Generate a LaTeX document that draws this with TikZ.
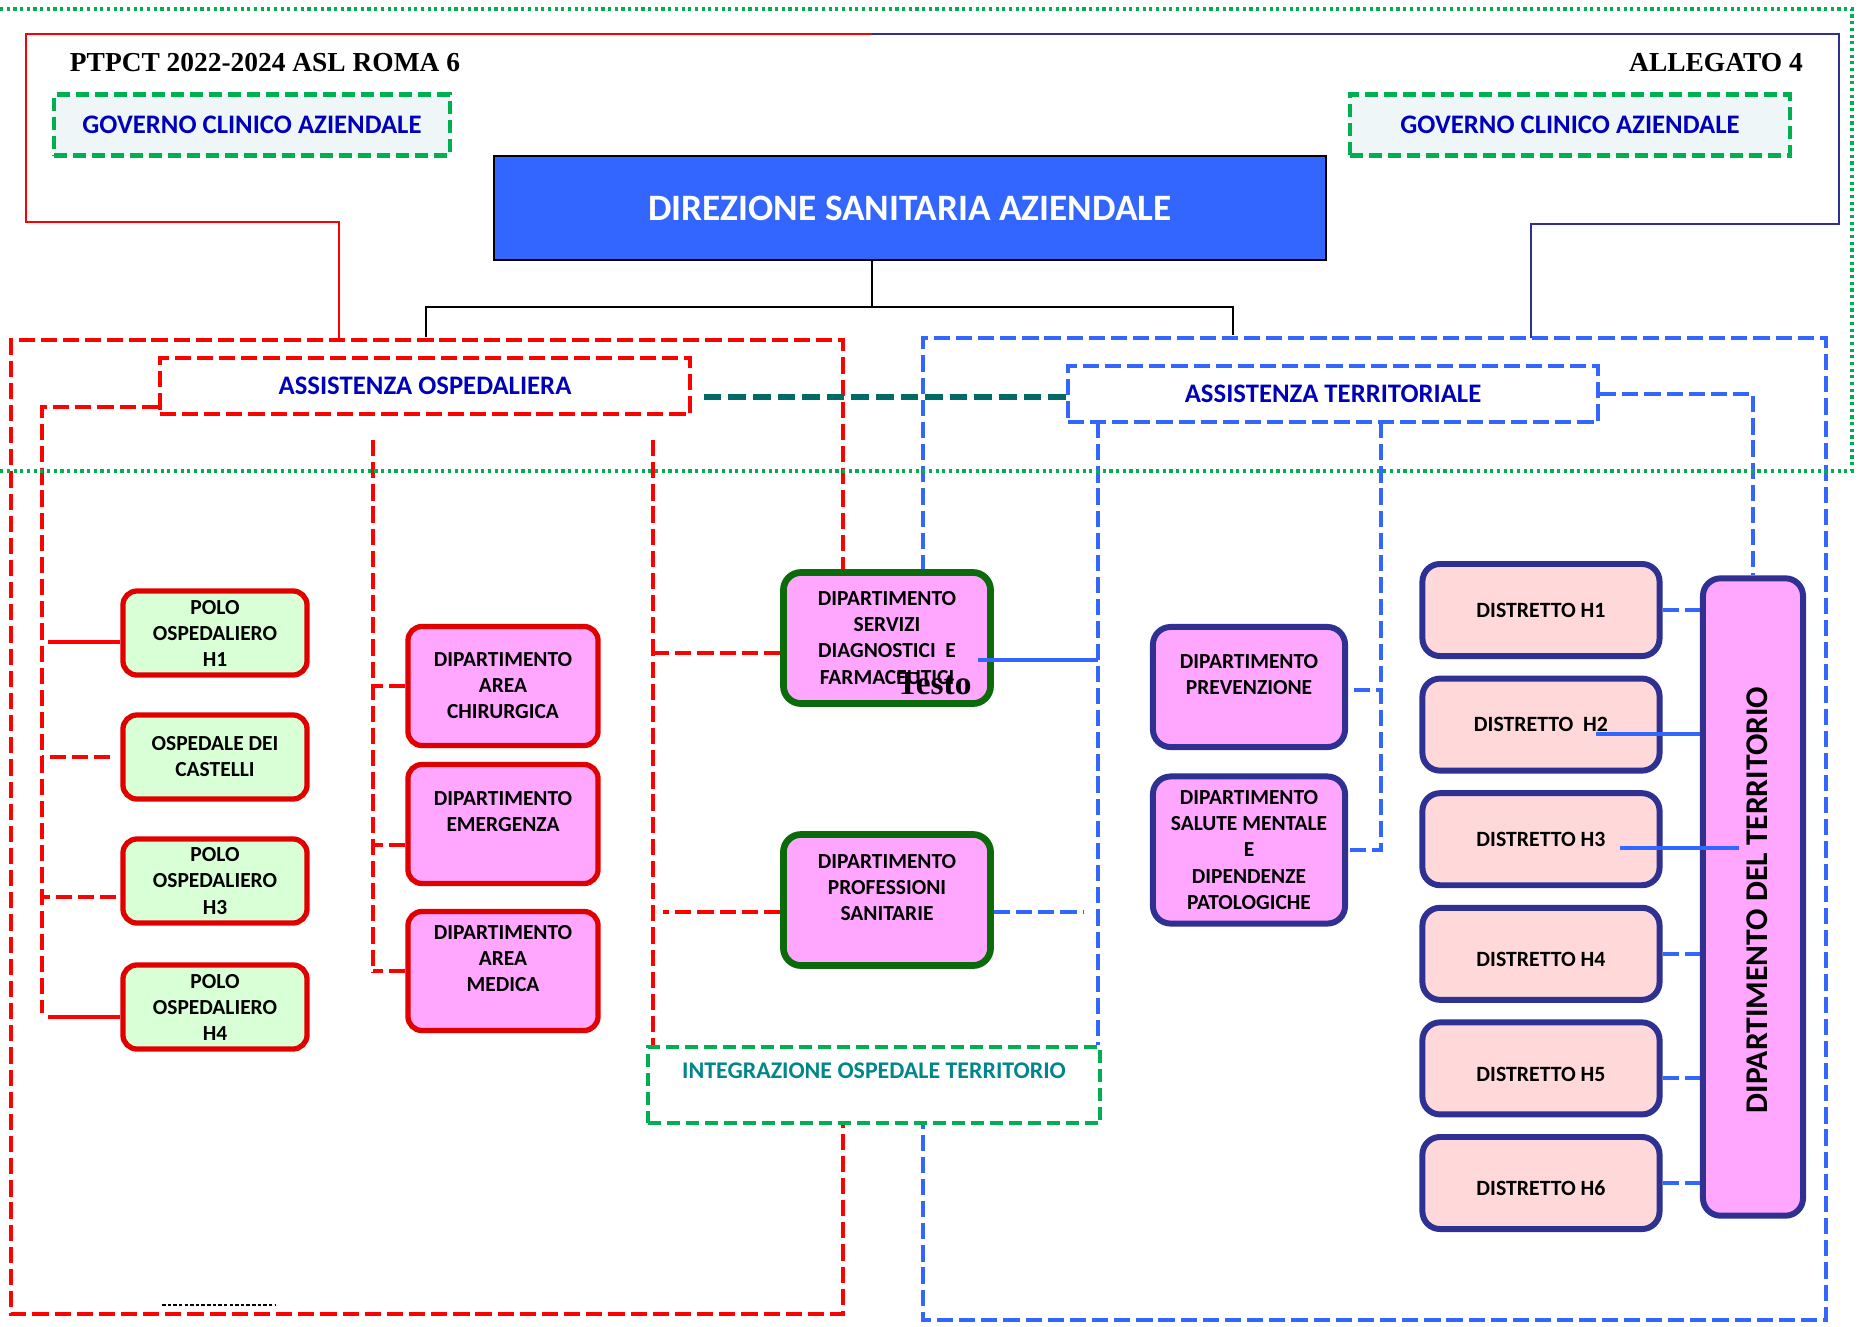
\documentclass[tikz,border=0pt]{standalone}
\usepackage{fontspec}
\setmainfont{Carlito}
\newfontfamily\tnr{Liberation Serif}
\usepackage{xcolor}
\usepackage{tikz}

\definecolor{rosa}{HTML}{FFA6FF}
\definecolor{verdino}{HTML}{D9FFD6}
\definecolor{pesca}{HTML}{FFD9D9}
\definecolor{blu}{HTML}{3366FF}
\definecolor{bltxt}{HTML}{0000BB}
\definecolor{navy}{HTML}{2E3092}
\definecolor{verde}{HTML}{00B050}
\definecolor{ciano}{HTML}{EEF6F8}
\definecolor{tealln}{HTML}{006B66}
\definecolor{tealtxt}{HTML}{00868B}
\definecolor{verdescuro}{HTML}{0B6B0B}
\definecolor{rossob}{HTML}{E00000}

\begin{document}
\begin{tikzpicture}[x=0.01cm, y=-0.01cm,
    rdash/.style={draw=red, line width=1.1pt, dash pattern=on 4.6pt off 1.7pt},
    bdash/.style={draw=blu, line width=1.1pt, dash pattern=on 4.6pt off 1.7pt},
    gdash/.style={draw=verde, line width=1.2pt, dash pattern=on 3.7pt off 1.7pt},
    gdot/.style={draw=verde, line width=1.1pt, dash pattern=on 0.9pt off 1pt},
    tdash/.style={draw=tealln, line width=1.7pt, dash pattern=on 5pt off 2pt},
    rsolid/.style={draw=red, line width=1.1pt},
    bsolid/.style={draw=blu, line width=0.9pt},
    txt/.style={font=\bfseries\fontsize{6.1}{7.4}\selectfont, align=center, inner sep=0pt},
    hbox/.style={txt, rounded corners=4pt, draw=rossob, line width=1.5pt, fill=verdino,
        minimum width=1.84cm, minimum height=0.84cm},
    dbox/.style={txt, rounded corners=4pt, draw=rossob, line width=1.5pt, fill=rosa,
        minimum width=1.9cm, minimum height=1.19cm},
    sbox/.style={txt, rounded corners=5pt, draw=verdescuro, line width=1.9pt, fill=rosa,
        minimum width=2.07cm, minimum height=1.31cm},
    nbox/.style={txt, rounded corners=5pt, draw=navy, line width=1.7pt, fill=rosa,
        minimum width=1.92cm, minimum height=1.2cm},
    distr/.style={txt, font=\bfseries\fontsize{6.2}{7.4}\selectfont, rounded corners=5pt,
        draw=navy, line width=1.7pt, fill=pesca, minimum width=2.37cm, minimum height=0.92cm},
    gov/.style={gdash, fill=ciano, text=bltxt, font=\bfseries\fontsize{7.6}{8.5}\selectfont,
        minimum height=0.61cm},
    assist/.style={fill=white, text=bltxt, font=\bfseries\fontsize{7.6}{8.5}\selectfont,
        minimum width=5.3cm, minimum height=0.56cm}
  ]
    \useasboundingbox (0,0) rectangle (1865,1326);

    % frames
    \draw[red, line width=0.8pt] (339,340) -- (339,222) -- (26,222) -- (26,34) -- (872,34);
    \draw[navy, line width=0.8pt] (872,34) -- (1839,34) -- (1839,224) -- (1531,224) -- (1531,338);
    \draw[rdash] (843,573) -- (843,340) -- (11,340) -- (11,1314) -- (843,1314) -- (843,1123);
    \draw[bdash] (923,571) -- (923,338) -- (1826,338) -- (1826,1320) -- (923,1320) -- (923,1123);
    \draw[black, line width=0.4pt, dash pattern=on 1pt off 0.6pt] (162,1305) -- (276,1305);

    % header
    \node[font=\tnr\bfseries\fontsize{7.8}{9}\selectfont] (ptpct) at (265,62) {PTPCT 2022-2024 ASL ROMA 6};
    \node[font=\tnr\bfseries\fontsize{7.8}{9}\selectfont] (alleg) at (1716,63) {ALLEGATO 4};

    % governo clinico
    \node[gov, minimum width=3.95cm] (govL) at (252,125) {GOVERNO CLINICO AZIENDALE};
    \node[gov, minimum width=4.39cm] (govR) at (1570,125) {GOVERNO CLINICO AZIENDALE};

    % direzione
    \node[draw=black, line width=0.6pt, fill=blu, text=white,
        font=\bfseries\fontsize{10.6}{12}\selectfont,
        minimum width=8.31cm, minimum height=1.04cm] (dir) at (910,208) {DIREZIONE SANITARIA AZIENDALE};

    % assistenza
    \node[assist, rdash] (aosp) at (425,386) {ASSISTENZA OSPEDALIERA};
    \node[assist, bdash] (ater) at (1333,394) {ASSISTENZA TERRITORIALE};

    % poli ospedalieri
    \node[hbox] (h1) at (215,633) {POLO\\OSPEDALIERO\\H1};
    \node[hbox] (cast) at (215,757) {OSPEDALE DEI\\CASTELLI};
    \node[hbox] (h3) at (215,881) {POLO\\OSPEDALIERO\\H3};
    \node[hbox] (h4) at (215,1007) {POLO\\OSPEDALIERO\\H4};

    % dipartimenti ospedalieri
    \node[dbox] (chir) at (503,686) {DIPARTIMENTO\\AREA\\CHIRURGICA};
    \node[dbox] (emer) at (503,824) {DIPARTIMENTO\\EMERGENZA\\~};
    \node[dbox] (med) at (503,971) {DIPARTIMENTO\\AREA\\MEDICA\\~};

    % dipartimenti trasversali
    \node[sbox] (serv) at (887,638) {DIPARTIMENTO\\SERVIZI\\DIAGNOSTICI\ \ E\\FARMACEUTICI};
    \node[sbox] (prof) at (887,900) {DIPARTIMENTO\\PROFESSIONI\\SANITARIE\\~};
    \node[font=\tnr\bfseries\fontsize{9.5}{10}\selectfont, inner sep=0pt] (testo) at (934,684) {Testo};

    \node[gdash, fill=white, text=tealtxt, font=\bfseries\fontsize{6.8}{8.2}\selectfont, align=center,
        minimum width=4.52cm, minimum height=0.76cm] (integ) at (874,1085) {INTEGRAZIONE OSPEDALE TERRITORIO\\~};

    % dipartimenti territoriali
    \node[nbox] (prev) at (1249,687) {DIPARTIMENTO\\PREVENZIONE\\~};
    \node[nbox, minimum height=1.47cm] (salm) at (1249,850) {DIPARTIMENTO\\SALUTE MENTALE\\E\\DIPENDENZE\\PATOLOGICHE};

    % distretti
    \foreach \i/\t in {1/{DISTRETTO H1}, 2/{DISTRETTO\ \ H2}, 3/{DISTRETTO H3},
                       4/{~\\DISTRETTO H4}, 5/{~\\DISTRETTO H5}, 6/{~\\DISTRETTO H6}}
        \node[distr] (d\i) at (1541,{610+114.6*(\i-1)}) {\t};

    \node[nbox, minimum width=1.0cm, minimum height=6.37cm] (dterr) at (1753,897) {};
    \node[rotate=90, font=\bfseries\fontsize{9}{10}\selectfont] (dterrT) at (1757,900) {DIPARTIMENTO DEL TERRITORIO};

    % direzione -> assistenza
    \coordinate (dirJ) at (872,307);
    \coordinate (aospT) at (426,337);
    \coordinate (aterT) at (1233,335);
    \draw[black, line width=0.5pt] (dir.south -| dirJ) -- (dirJ);
    \draw[black, line width=0.5pt] (aospT) |- (dirJ) -| (aterT);

    % ospedale - territorio
    \coordinate (aterw) at ([yshift=-0.03cm]ater.west);
    \draw[tdash, shorten >=0.1cm] (aterw) -- (aterw -| aosp.east);

    % spine poli
    \coordinate (spA) at (42,407);
    \coordinate (spAb) at (42,1013);
    \coordinate (h1c) at ([yshift=-0.09cm]h1.west);
    \coordinate (h3c) at ([yshift=-0.16cm]h3.west);
    \coordinate (h4c) at ([yshift=-0.1cm]h4.west);
    \draw[rdash] (aosp.west |- spA) -- (spA) -- (spAb);
    \draw[rsolid, shorten >=0.06cm] (h1c) -- (h1c -| spA);
    \draw[rdash, shorten <=0.1cm] (cast.west) -- (cast.west -| spA);
    \draw[rdash, shorten <=0.04cm] (h3c) -- (h3c -| spA);
    \draw[rsolid, shorten >=0.06cm] (h4c) -- (h4c -| spA);

    % spine dipartimenti
    \coordinate (spB) at (373,440);
    \coordinate (spBb) at (373,973);
    \coordinate (emerc) at ([yshift=-0.21cm]emer.west);
    \draw[rdash] (spB) -- (spBb);
    \draw[rdash] (chir.west) -- (chir.west -| spB);
    \draw[rdash] (emerc) -- (emerc -| spB);
    \draw[rdash] (med.west) -- (med.west -| spB);

    \coordinate (spC) at (653,440);
    \coordinate (servc) at ([yshift=-0.15cm]serv.west);
    \coordinate (profc) at ([yshift=-0.12cm]prof.west);
    \draw[rdash] (spC) -- (spC |- integ.north);
    \draw[rdash] (servc) -- (servc -| spC);
    \draw[rdash, shorten >=0.1cm] (profc) -- (profc -| spC);

    % spine territorio
    \coordinate (spD) at (1098,422);
    \coordinate (servB) at (978,660);
    \coordinate (profe) at ([yshift=-0.12cm]prof.east);
    \draw[bdash] (spD) -- (spD |- integ.north);
    \draw[bsolid] (servB) -- (servB -| spD);
    \draw[bdash, shorten >=0.14cm] (profe) -- (profe -| spD);

    \coordinate (spE) at (1381,422);
    \coordinate (preve) at ([yshift=-0.03cm]prev.east);
    \draw[bdash] (spE) |- (salm.east);
    \draw[bdash, shorten <=0.06cm] (preve) -- (preve -| spE);

    % distretti -> dipartimento del territorio
    \draw[bdash] (ater.east) -| (dterr.north);
    \foreach \i in {1,4,6} \draw[bdash] (d\i.east) -- (d\i.east -| dterr.west);
    \coordinate (d5c) at ([yshift=-0.1cm]d5.east);
    \draw[bdash] (d5c) -- (d5c -| dterr.west);
    \coordinate (d2B) at (1596,734);
    \coordinate (d3B) at (1620,848);
    \coordinate (d3E) at (1739,848);
    \draw[bsolid] (d2B) -- (d2B -| dterr.west);
    \draw[bsolid] (d3B) -- (d3E);

    % green dotted frame
    \draw[gdot] (0,9) -- (1852,9) -- (1852,471) -- (0,471);
\end{tikzpicture}
\end{document}
